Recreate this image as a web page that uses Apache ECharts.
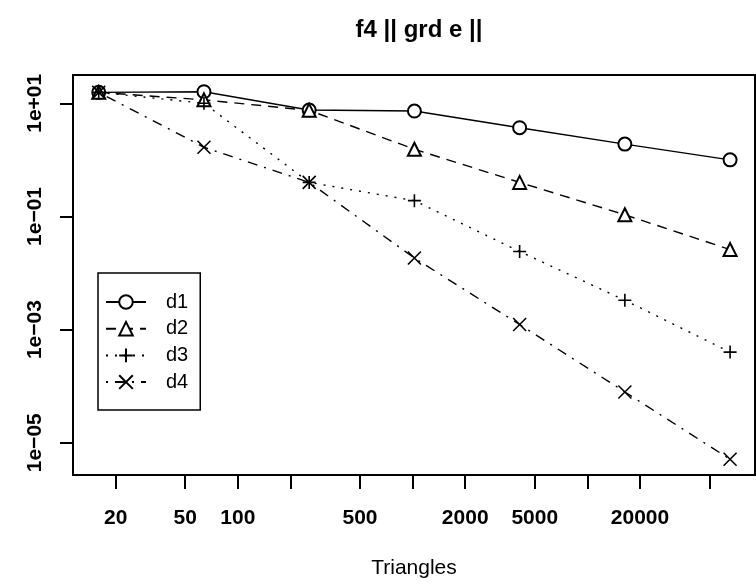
<!DOCTYPE html>
<html>
<head>
<meta charset="utf-8">
<script src="https://cdn.jsdelivr.net/npm/echarts@6/dist/echarts.min.js"></script>
<style>html,body{margin:0;padding:0;background:#fff;}#c{width:756px;height:585px;}</style>
</head>
<body>
<div id="c"></div>
<script>
// ---- data ----
const triangles = [16, 64, 256, 1024, 4096, 16384, 65536];
const d1 = [15.6, 16, 7.6, 7.3, 3.7, 1.9, 1.0];
const d2 = [15.6, 11.5, 7.5, 1.54, 0.40, 0.107, 0.026];
const d3 = [15.6, 10, 0.40, 0.19, 0.024, 0.0033, 0.0004];
const d4 = [15.6, 1.67, 0.40, 0.0184, 0.00123, 7.9e-5, 5.1e-6];
const seriesNames = ['d1', 'd2', 'd3', 'd4'];
const xTickValues = [20, 50, 100, 200, 500, 1000, 2000, 5000, 10000, 20000, 50000];
const xTickLabels = [20, 50, 100, 500, 2000, 5000, 20000];
const yTickLabels = [1e1, 1e-1, 1e-3, 1e-5];
const xRange = [11.4, 91000];
const yRange = [Math.pow(10, -5.57), Math.pow(10, 1.5)];

const FONT = '"Liberation Sans", Arial, Helvetica, sans-serif';
const plusPath = 'path://M10,0L10,20M0,10L20,10';
const crossPath = 'path://M0,0L20,20M0,20L20,0';

const allData = [d1, d2, d3, d4];
const symbols = ['emptyCircle', 'emptyTriangle', plusPath, crossPath];
const dashes = ['solid', [10, 7], [2, 7], [2, 7, 10, 7]];

function fmtY(v) {
  const e = Math.round(v);
  const s = Math.abs(e) < 10 ? '0' + Math.abs(e) : '' + Math.abs(e);
  return '1e' + (e >= 0 ? '+' : '\u2212') + s;
}

const series = seriesNames.map((name, i) => ({
  name: name,
  type: 'line',
  xAxisIndex: 0,
  yAxisIndex: 0,
  data: triangles.map((x, j) => [x, allData[i][j]]),
  symbol: symbols[i],
  symbolSize: 13,
  showSymbol: true,
  animation: false,
  lineStyle: { color: '#000', width: 1.4, type: dashes[i] },
  itemStyle: i < 2
    ? { color: '#000', borderColor: '#000', borderWidth: 1.4 }
    : { color: '#000', borderColor: '#000', borderWidth: 1.6 },
  emphasis: { disabled: true }
}));

const chart = echarts.init(document.getElementById('c'), null, { renderer: 'canvas' });
chart.setOption({
  backgroundColor: '#fff',
  animation: false,
  title: {
    text: 'f4 || grd e ||',
    left: 414, textAlign: 'center', top: 13,
    textStyle: { fontFamily: FONT, fontSize: 24, fontWeight: 'bold', color: '#000' }
  },
  grid: {
    left: 73, right: 1, top: 75, bottom: 110,
    show: true, borderColor: '#000', borderWidth: 2, backgroundColor: 'transparent'
  },
  legend: {
    orient: 'vertical',
    left: 98, top: 273,
    padding: [19, 12, 18, 7],
    itemWidth: 40, itemHeight: 17, itemGap: 6.7,
    borderColor: '#000', borderWidth: 1.5, borderRadius: 0,
    backgroundColor: '#fff',
    data: seriesNames,
    textStyle: { fontFamily: FONT, fontSize: 20, lineHeight: 20, color: '#000', padding: [0, 0, 0, 15] }
  },
  xAxis: [
    { type: 'log', logBase: 10, min: xRange[0], max: xRange[1], show: false, gridIndex: 0 },
    {
      type: 'value', gridIndex: 0, position: 'bottom',
      min: Math.log10(xRange[0]), max: Math.log10(xRange[1]),
      name: 'Triangles', nameLocation: 'middle', nameGap: 83,
      nameTextStyle: { fontFamily: FONT, fontSize: 21, color: '#000' },
      axisLine: { show: false },
      splitLine: { show: false },
      axisTick: { show: true, length: 14, lineStyle: { color: '#000', width: 2 },
        customValues: xTickValues.map(v => Math.log10(v)) },
      axisLabel: { show: true, margin: 33, fontFamily: FONT, fontSize: 21, fontWeight: 'bold', color: '#000',
        customValues: xTickLabels.map(v => Math.log10(v)),
        formatter: v => String(Math.round(Math.pow(10, v))) }
    }
  ],
  yAxis: [
    { type: 'log', logBase: 10, min: yRange[0], max: yRange[1], show: false, gridIndex: 0 },
    {
      type: 'value', gridIndex: 0, position: 'left',
      min: Math.log10(yRange[0]), max: Math.log10(yRange[1]),
      axisLine: { show: false },
      splitLine: { show: false },
      axisTick: { show: true, length: 13, lineStyle: { color: '#000', width: 2 },
        customValues: yTickLabels.map(v => Math.log10(v)) },
      axisLabel: { show: true, rotate: 90, margin: 27, fontFamily: FONT, fontSize: 21, fontWeight: 'bold', color: '#000',
        customValues: yTickLabels.map(v => Math.log10(v)),
        formatter: fmtY }
    }
  ],
  series: series
});
</script>
</body>
</html>
